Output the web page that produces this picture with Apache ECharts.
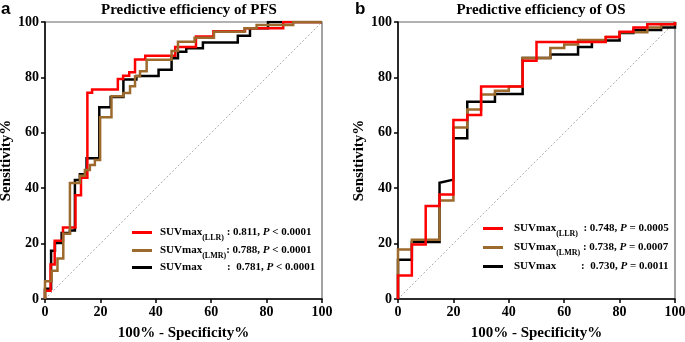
<!DOCTYPE html>
<html>
<head>
<meta charset="utf-8">
<script src="https://cdn.jsdelivr.net/npm/echarts@6/dist/echarts.min.js"></script>
<style>
  html, body {margin: 0; padding: 0; background: #fff;}
  #chart {width: 685px; height: 342px;}
</style>
</head>
<body>
<div id="chart"></div>
<script>
// ROC points [100% - specificity, sensitivity]
const pfsLLR = [[0,0],[0,3],[2,3],[2,12.5],[3.5,12.5],[3.5,21],[6.5,21],[6.5,25.8],[11,25.8],[11,37.5],[13,37.5],[13,43.8],[15.3,43.8],[15.3,74.5],[17,74.5],[17,75.6],[26.3,75.6],[26.3,79.4],[28.2,79.4],[28.2,80.6],[30.4,80.6],[30.4,81.9],[32.5,81.9],[32.5,86.5],[36.2,86.5],[36.2,87.8],[47,87.8],[47,91],[54.5,91],[54.5,94.8],[60.8,94.8],[60.8,96.7],[72.2,96.7],[72.2,97.7],[86,97.7],[86,100],[100,100]];
const pfsLMR = [[0,0],[0,6.4],[2.4,6.4],[2.4,10.2],[4.5,10.2],[4.5,14.6],[6.6,14.6],[6.6,23.6],[9,23.6],[9,41.9],[12.6,41.9],[12.6,44.5],[14.4,44.5],[14.4,46.6],[16.2,46.6],[16.2,48.4],[18,48.4],[18,50.2],[19.9,50.2],[19.9,65.6],[24,65.6],[24,73.2],[28.3,73.2],[28.3,74.4],[30.7,74.4],[30.7,76.8],[32.5,76.8],[32.5,80.4],[34.3,80.4],[34.3,82.2],[36.7,82.2],[36.7,86.4],[45.7,86.4],[45.7,89.5],[48,89.5],[48,92.9],[54,92.9],[54,94.3],[61,94.3],[61,96.5],[72,96.5],[72,97.7],[76.4,97.7],[76.4,98.9],[89.6,98.9],[89.6,100],[100,100]];
const pfsSUV = [[0,0],[0,3.7],[2.2,3.7],[2.2,17.4],[3.6,17.4],[3.6,20.2],[6,20.2],[6,23.8],[9,23.8],[9,24.7],[10.8,24.7],[10.8,43],[12.6,43],[12.6,45],[15,45],[15,50.8],[19.6,50.8],[19.6,69.2],[23.7,69.2],[23.7,72.9],[28.3,72.9],[28.3,79.2],[33,79.2],[33,80.5],[41,80.5],[41,82.8],[45.7,82.8],[45.7,86.9],[48,86.9],[48,89.3],[51,89.3],[51,90.5],[57,90.5],[57,92.6],[69.6,92.6],[69.6,95],[74,95],[74,97.7],[80.5,97.7],[80.5,100],[100,100]];

const osLLR = [[0,0],[0,8.5],[5,8.5],[5,19.7],[10,19.7],[10,33.6],[15,33.6],[15,37.7],[20,37.7],[20,64.6],[25,64.6],[25,66.4],[30,66.4],[30,76.7],[45,76.7],[45,86],[50,86],[50,92.8],[75,92.8],[75,94.6],[80,94.6],[80,96.5],[85,96.5],[85,98],[90,98],[90,99.2],[100,99.2],[100,100]];
const osLMR = [[0,0],[0,17.9],[5,17.9],[5,21.4],[15,21.4],[15,35.6],[20,35.6],[20,61.9],[25,61.9],[25,68.4],[30,68.4],[30,73.8],[35,73.8],[35,75.2],[40,75.2],[40,76.7],[45,76.7],[45,87],[55,87],[55,90.6],[60,90.6],[60,91.9],[65,91.9],[65,93.5],[75,93.5],[75,94.6],[80,94.6],[80,96.3],[90,96.3],[90,98],[95,98],[95,99.2],[100,99.2],[100,100]];
const osSUV = [[0,0],[0,14.2],[5,14.2],[5,20.6],[15,20.6],[15,42],[20,43.1],[20,58],[25,58],[25,71.2],[35,71.2],[35,74],[45,74],[45,87],[55,87],[55,88.3],[65,88.3],[65,91],[70,91],[70,93.3],[80,93.3],[80,96],[85,96],[85,97.1],[95,97.1],[95,98],[100,98],[100,100]];

const chance = [[0,0],[100,100]];

const pfsAUC = ['0.811', '0.788', '0.781'];
const pfsP = ['< 0.0001', '< 0.0001', '< 0.0001'];
const osAUC = ['0.748', '0.738', '0.730'];
const osP = ['= 0.0005', '= 0.0007', '= 0.0011'];

const colors = ['#ff0000', '#9b6a2c', '#000000'];
const serif = '"Liberation Serif", "Times New Roman", serif';

const myChart = echarts.init(document.getElementById('chart'));

function axisX(grid) {
  return {
    type: 'value', gridIndex: grid, min: 0, max: 100, interval: 20,
    name: '100% - Specificity%', nameLocation: 'middle', nameGap: 27,
    nameTextStyle: {fontFamily: serif, fontWeight: 'bold', fontSize: 15, color: '#000'},
    axisLine: {lineStyle: {color: '#000', width: 1.5}},
    axisTick: {length: 4, lineStyle: {color: '#000', width: 1.5}},
    axisLabel: {fontFamily: serif, fontWeight: 'bold', fontSize: 14, color: '#000', margin: 6},
    splitLine: {show: false}
  };
}
function axisY(grid) {
  return {
    type: 'value', gridIndex: grid, min: 0, max: 100, interval: 20,
    name: 'Sensitivity%', nameLocation: 'middle', nameGap: 30,
    nameTextStyle: {fontFamily: serif, fontWeight: 'bold', fontSize: 15, color: '#000'},
    axisLine: {lineStyle: {color: '#000', width: 1.5}},
    axisTick: {length: 4, lineStyle: {color: '#000', width: 1.5}},
    axisLabel: {fontFamily: serif, fontWeight: 'bold', fontSize: 14, color: '#000', margin: 6},
    splitLine: {show: false}
  };
}

function roc(name, data, grid, color) {
  return {
    name, type: 'line', data, xAxisIndex: grid, yAxisIndex: grid,
    symbol: 'none', showSymbol: false, silent: true,
    lineStyle: {color, width: 2.5, join: 'miter'}, itemStyle: {color}
  };
}

const rich = {
  n: {fontFamily: serif, fontWeight: 'bold', fontSize: 11, color: '#000', lineHeight: 16, verticalAlign: 'middle'},
  nw: {fontFamily: serif, fontWeight: 'bold', fontSize: 11, color: '#000', lineHeight: 16, width: 67},
  s: {fontFamily: serif, fontWeight: 'bold', fontSize: 8, color: '#000', lineHeight: 16, verticalAlign: 'bottom', padding: [0, 0, -1, 0]},
  c: {fontFamily: serif, fontWeight: 'bold', fontSize: 11, color: '#000', lineHeight: 16},
  i: {fontFamily: serif, fontWeight: 'bold', fontStyle: 'italic', fontSize: 11, color: '#000', lineHeight: 16}
};

const labels = {
  'PFS LLR': `{n|SUVmax}{s|(LLR)}{c| : ${pfsAUC[0]}, }{i|P}{c| ${pfsP[0]}}`,
  'PFS LMR': `{n|SUVmax}{s|(LMR)}{c|: ${pfsAUC[1]}, }{i|P}{c| ${pfsP[1]}}`,
  'PFS SUV': `{nw|SUVmax}{c|:  ${pfsAUC[2]}, }{i|P}{c| ${pfsP[2]}}`,
  'OS LLR': `{n|SUVmax}{s|(LLR)}{c|  : ${osAUC[0]}, }{i|P}{c| ${osP[0]}}`,
  'OS LMR': `{n|SUVmax}{s|(LMR)}{c| : ${osAUC[1]}, }{i|P}{c| ${osP[1]}}`,
  'OS SUV': `{nw|SUVmax}{c|:  ${osAUC[2]}, }{i|P}{c| ${osP[2]}}`
};

function legendRow(name, left, y, pad) {
  return {
    data: [name], left, top: y - 8, orient: 'vertical', padding: 0,
    icon: 'rect', itemWidth: 20, itemHeight: 3, selectedMode: false,
    formatter: (n) => labels[n],
    textStyle: {rich, padding: [0, 0, 0, pad]}
  };
}

myChart.setOption({
  animation: false,
  backgroundColor: '#fff',
  title: [
    {text: 'Predictive efficiency of PFS', left: 184, top: -2, textAlign: 'center',
      textStyle: {fontFamily: serif, fontWeight: 'bold', fontSize: 15, color: '#000'}},
    {text: 'Predictive efficiency of OS', left: 536, top: -2, textAlign: 'center',
      textStyle: {fontFamily: serif, fontWeight: 'bold', fontSize: 15, color: '#000'}},
    {text: 'a', left: 1, top: 1, padding: 0,
      textStyle: {fontFamily: '"Liberation Sans", Arial, sans-serif', fontWeight: 'bold', fontSize: 17, color: '#000'}},
    {text: 'b', left: 355, top: 1, padding: 0,
      textStyle: {fontFamily: '"Liberation Sans", Arial, sans-serif', fontWeight: 'bold', fontSize: 17, color: '#000'}}
  ],
  grid: [
    {left: 45, top: 22, width: 277, height: 277, show: true, borderColor: '#666', borderWidth: 1.2, outerBoundsMode: 'none'},
    {left: 398, top: 22, width: 277, height: 277, show: true, borderColor: '#666', borderWidth: 1.2, outerBoundsMode: 'none'}
  ],
  xAxis: [axisX(0), axisX(1)],
  yAxis: [axisY(0), axisY(1)],
  legend: [
    legendRow('PFS LLR', 132, 235, 3),
    legendRow('PFS LMR', 132, 253, 3),
    legendRow('PFS SUV', 132, 270, 3),
    legendRow('OS LLR', 483, 231, 6),
    legendRow('OS LMR', 483, 250, 6),
    legendRow('OS SUV', 483, 269, 6)
  ],
  series: [
    {type: 'line', data: chance, xAxisIndex: 0, yAxisIndex: 0, symbol: 'none', silent: true,
      lineStyle: {color: '#999', width: 0.8, type: [2, 2]}},
    {type: 'line', data: chance, xAxisIndex: 1, yAxisIndex: 1, symbol: 'none', silent: true,
      lineStyle: {color: '#999', width: 0.8, type: [2, 2]}},
    roc('PFS SUV', pfsSUV, 0, colors[2]),
    roc('PFS LLR', pfsLLR, 0, colors[0]),
    roc('PFS LMR', pfsLMR, 0, colors[1]),
    roc('OS SUV', osSUV, 1, colors[2]),
    roc('OS LMR', osLMR, 1, colors[1]),
    roc('OS LLR', osLLR, 1, colors[0])
  ]
});
</script>
</body>
</html>
